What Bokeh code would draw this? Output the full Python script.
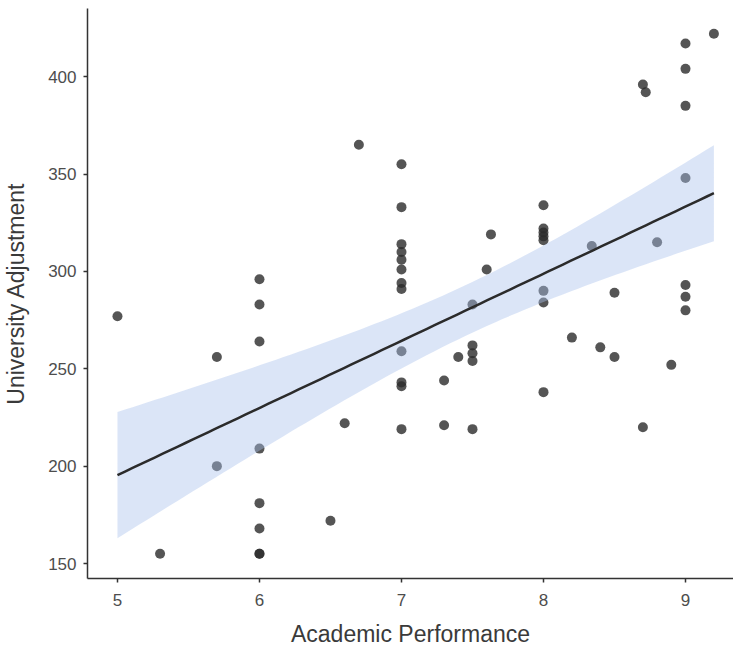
import numpy as np
from bokeh.plotting import figure
from bokeh.models import FixedTicker, ColumnDataSource
from bokeh.embed import file_html
from bokeh.resources import INLINE

# Data
academic = [5.0, 5.3, 5.7, 5.7,
            6.0, 6.0, 6.0, 6.0, 6.0, 6.0, 6.0, 6.0,
            6.5, 6.6, 6.7,
            7.0, 7.0, 7.0, 7.0, 7.0, 7.0, 7.0, 7.0, 7.0, 7.0, 7.0, 7.0,
            7.3, 7.3, 7.4,
            7.5, 7.5, 7.5, 7.5, 7.5,
            7.6, 7.63,
            8.0, 8.0, 8.0, 8.0, 8.0, 8.0, 8.0, 8.0,
            8.2, 8.34, 8.4, 8.5, 8.5,
            8.7, 8.7, 8.72, 8.8, 8.9,
            9.0, 9.0, 9.0, 9.0, 9.0, 9.0, 9.0,
            9.2]
adjustment = [277, 155, 256, 200,
              296, 283, 264, 209, 181, 168, 155, 155,
              172, 222, 365,
              355, 333, 314, 310, 306, 301, 294, 291, 259, 243, 241, 219,
              244, 221, 256,
              283, 262, 258, 254, 219,
              301, 319,
              334, 322, 320, 318, 316, 290, 284, 238,
              266, 313, 261, 289, 256,
              396, 220, 392, 315, 252,
              417, 404, 385, 348, 293, 287, 280,
              422]
x_ticks = [5, 6, 7, 8, 9]
y_ticks = [150, 200, 250, 300, 350, 400]

x = np.array(academic, dtype=float)
y = np.array(adjustment, dtype=float)
n = len(x)
slope, intercept = np.polyfit(x, y, 1)
resid = y - (slope * x + intercept)
s = np.sqrt(np.sum(resid ** 2) / (n - 2))
xm = x.mean()
sxx = np.sum((x - xm) ** 2)
t_crit = 2.0
xs = np.linspace(x.min(), x.max(), 80)
fit = slope * xs + intercept
se = s * np.sqrt(1.0 / n + (xs - xm) ** 2 / sxx)
lower = fit - t_crit * se
upper = fit + t_crit * se

p = figure(width=733, height=649, output_backend="svg", toolbar_location=None,
           x_range=(4.789, 9.338), y_range=(142.3, 435.0),
           min_border_left=87, min_border_right=0, min_border_top=8,
           min_border_bottom=69)
p.outline_line_color = None
p.xgrid.visible = False
p.ygrid.visible = False
p.background_fill_color = "white"
p.border_fill_color = "white"

src = ColumnDataSource(dict(x=academic, y=adjustment))
p.scatter("x", "y", source=src, size=10, fill_color="#2b2b2b", fill_alpha=0.8,
          line_color=None)

band = ColumnDataSource(dict(x=xs, lo=lower, hi=upper, fit=fit))
p.varea(x="x", y1="lo", y2="hi", source=band, fill_color="#aac2eb", fill_alpha=0.42)
p.line("x", "fit", source=band, line_color="#2b2b2b", line_width=2.5)

for ax in (p.xaxis[0], p.yaxis[0]):
    ax.axis_line_color = "#333333"
    ax.axis_line_width = 1.5
    ax.major_tick_line_color = "#333333"
    ax.major_tick_line_width = 1.5
    ax.major_tick_out = 4
    ax.major_tick_in = 0
    ax.minor_tick_line_color = None
    ax.major_label_text_font = "Liberation Sans"
    ax.major_label_text_font_size = "17px"
    ax.major_label_text_color = "#4d4d4d"
    ax.major_label_text_line_height = 1.0
    ax.axis_label_text_font = "Liberation Sans"
    ax.axis_label_text_font_size = "23px"
    ax.axis_label_text_font_style = "normal"
    ax.axis_label_text_color = "#3a3a3a"
    ax.axis_label_text_line_height = 1.0

p.xaxis[0].major_label_standoff = 11
p.yaxis[0].major_label_standoff = 7
p.xaxis[0].ticker = FixedTicker(ticks=x_ticks)
p.yaxis[0].ticker = FixedTicker(ticks=y_ticks)
p.xaxis[0].axis_label = "Academic Performance"
p.yaxis[0].axis_label = "University Adjustment"
p.xaxis[0].axis_label_standoff = 12
p.yaxis[0].axis_label_standoff = 16

open("out.html", "w").write(file_html(p, INLINE))
